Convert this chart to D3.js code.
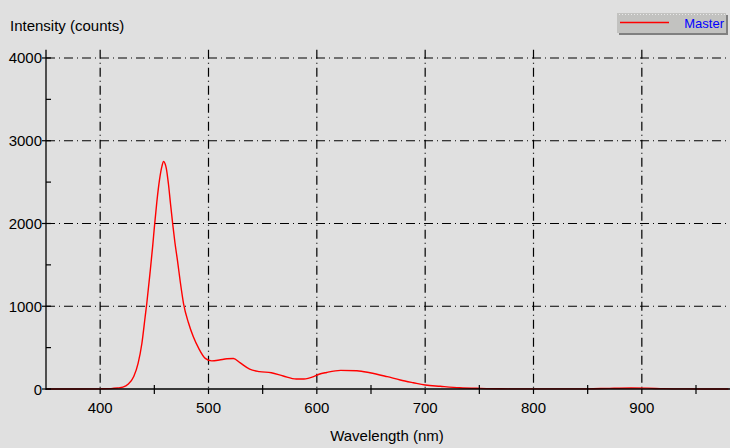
<!DOCTYPE html>
<html>
<head>
<meta charset="utf-8">
<script src="https://cdn.jsdelivr.net/npm/d3@7"></script>
<style>
  body { margin: 0; background: #e0e0e0; }
  text { font-family: "Liberation Sans", Arial, sans-serif; fill: #000; }
</style>
</head>
<body>
<svg id="chart" width="730" height="448"></svg>
<script>
// spectrum data
var wavelength = [350, 380, 400, 410, 416, 421, 426, 431, 435, 438.5, 441.5, 443, 446, 448.5, 450, 452.3, 454.8, 457, 458.5, 460, 461, 463, 465, 467, 469, 471.5, 474, 477, 481.5, 486, 491, 497, 503, 510, 517, 523, 529, 538, 547, 558, 569, 581, 588, 597, 602, 609, 622, 637, 649, 665, 677, 689, 700, 714, 732, 751, 770, 800, 850, 870, 890, 905, 920, 940, 980];
var intensity = [0, 0, 2, 5, 12, 22, 60, 150, 310, 550, 870, 1030, 1400, 1730, 1950, 2260, 2530, 2690, 2750, 2720, 2670, 2480, 2230, 1990, 1770, 1540, 1290, 1030, 800, 630, 490, 370, 340, 350, 366, 368, 318, 240, 210, 197, 157, 121, 121, 149, 178, 200, 225, 221, 197, 149, 109, 76, 48, 33, 16, 8, 3, 1, 2, 8, 12, 10, 4, 1, 0];

var xMajor = [400, 500, 600, 700, 800, 900];
var xMinor = [450, 550, 650, 750, 850, 950];
var yMajor = [0, 1000, 2000, 3000, 4000];
var yMinor = [500, 1500, 2500, 3500];

var seriesName = "Master";

var W = 730, H = 448;
var svg = d3.select("#chart");

svg.append("rect").attr("width", W).attr("height", H).attr("fill", "#e0e0e0");

var x = d3.scaleLinear().domain([350, 980]).range([46, 728.5]);
var y = d3.scaleLinear().domain([0, 4100]).range([389, 49.7]);

var DASH = "9,4,1,4";

// grid
svg.append("g").selectAll("line").data(xMajor).enter().append("line")
    .attr("x1", d => x(d)).attr("x2", d => x(d))
    .attr("y1", y(4100)).attr("y2", y(0))
    .attr("stroke", "#000").attr("stroke-width", 1.2)
    .attr("stroke-dasharray", DASH);
svg.append("g").selectAll("line").data(yMajor.filter(d => d > 0)).enter().append("line")
    .attr("x1", 46).attr("x2", W)
    .attr("y1", d => y(d)).attr("y2", d => y(d))
    .attr("stroke", "#000").attr("stroke-width", 1.2)
    .attr("stroke-dasharray", DASH);

// curve
var pts = wavelength.map((w, i) => [w, intensity[i]]);
var line = d3.line()
    .x(d => x(d[0]))
    .y(d => y(d[1]))
    .curve(d3.curveMonotoneX);
svg.append("path").datum(pts)
    .attr("d", line)
    .attr("fill", "none")
    .attr("stroke", "#ff0000")
    .attr("stroke-width", 1.4);

// axes lines
svg.append("line").attr("x1", 46).attr("x2", 46).attr("y1", y(4100)).attr("y2", y(0) + 1)
    .attr("stroke", "#000").attr("stroke-width", 1.3);
svg.append("line").attr("x1", 46).attr("x2", W).attr("y1", y(0)).attr("y2", y(0))
    .attr("stroke", "#000").attr("stroke-width", 1.3);

// y ticks
var yt = svg.append("g");
yt.selectAll(".maj").data(yMajor).enter().append("line")
    .attr("x1", 42).attr("x2", 51)
    .attr("y1", d => y(d)).attr("y2", d => y(d))
    .attr("stroke", "#000").attr("stroke-width", 1.2);
yt.selectAll(".min").data(yMinor).enter().append("line")
    .attr("x1", 46).attr("x2", 51)
    .attr("y1", d => y(d)).attr("y2", d => y(d))
    .attr("stroke", "#000").attr("stroke-width", 1.2);
yt.selectAll("text").data(yMajor).enter().append("text")
    .attr("x", 42).attr("y", d => y(d) + 5.5)
    .attr("text-anchor", "end")
    .style("font-size", "15px")
    .text(d => d);

// x ticks
var xt = svg.append("g");
xt.selectAll(".maj").data(xMajor).enter().append("line")
    .attr("x1", d => x(d)).attr("x2", d => x(d))
    .attr("y1", y(0)).attr("y2", y(0) + 5)
    .attr("stroke", "#000").attr("stroke-width", 1.2);
xt.selectAll(".min").data(xMinor).enter().append("line")
    .attr("x1", d => x(d)).attr("x2", d => x(d))
    .attr("y1", y(0) - 4).attr("y2", y(0) + 5)
    .attr("stroke", "#000").attr("stroke-width", 1.2);
xt.selectAll("text").data(xMajor).enter().append("text")
    .attr("x", d => x(d)).attr("y", 413)
    .attr("text-anchor", "middle")
    .style("font-size", "15px")
    .text(d => d);

// titles
svg.append("text").attr("x", 10).attr("y", 31)
    .style("font-size", "15px").text("Intensity (counts)");
svg.append("text").attr("x", 387).attr("y", 441)
    .attr("text-anchor", "middle")
    .style("font-size", "15px").text("Wavelength (nm)");

// legend
var lg = svg.append("g");
lg.append("rect").attr("x", 619).attr("y", 15).attr("width", 109).attr("height", 20).attr("fill", "#808080");
lg.append("rect").attr("x", 617).attr("y", 13).attr("width", 109).attr("height", 20)
    .attr("fill", "#c2c2c0");
lg.append("line").attr("x1", 619).attr("x2", 725).attr("y1", 14.5).attr("y2", 14.5)
    .attr("stroke", "#e8e8e8").attr("stroke-dasharray", "1,2");
lg.append("line").attr("x1", 620).attr("x2", 669).attr("y1", 22.5).attr("y2", 22.5)
    .attr("stroke", "#ff0000").attr("stroke-width", 1.3);
lg.append("text").attr("x", 724).attr("y", 28)
    .attr("text-anchor", "end")
    .style("font-size", "13px").style("fill", "#0000ff")
    .text(seriesName);
</script>
</body>
</html>
